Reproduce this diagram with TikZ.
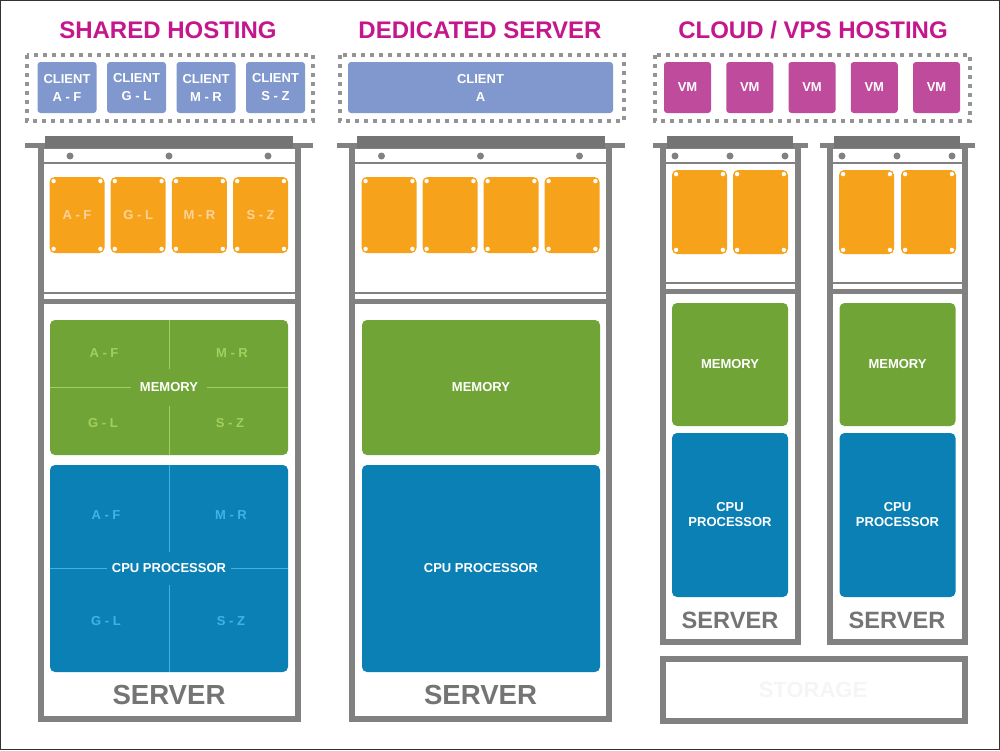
\documentclass[tikz,border=0pt]{standalone}
\usepackage{fontspec}
\setmainfont{Liberation Sans}
\usetikzlibrary{calc}

\definecolor{hostpink}{HTML}{C4178C}
\definecolor{clientblue}{HTML}{8098CE}
\definecolor{vmpink}{HTML}{BE4B9C}
\definecolor{diskorange}{HTML}{F6A21B}
\definecolor{diskfaint}{HTML}{FCD49A}
\definecolor{memgreen}{HTML}{71A437}
\definecolor{memfaint}{HTML}{A2D05A}
\definecolor{cpublue}{HTML}{0B80B5}
\definecolor{cpufaint}{HTML}{3DB4E6}
\definecolor{rackgray}{HTML}{818181}
\definecolor{capgray}{HTML}{747474}

\begin{document}
\begin{tikzpicture}[%
      x=0.5pt, y=-0.5pt,
      every node/.style={inner sep=0pt,
                         font={\bfseries\fontsize{6.5}{9}\selectfont}},
      title/.style={text=hostpink, font={\bfseries\fontsize{12}{14}\selectfont}},
      pool/.style={draw=rackgray!85, line width=2pt, dash pattern=on 2pt off 2.5pt},
      guest/.style={fill=clientblue, text=white, rounded corners=1.5pt, align=center,
                    minimum width=29.5pt, minimum height=25.5pt},
      vm/.style={guest, fill=vmpink, minimum width=23.5pt},
      disk/.style={fill=diskorange, text=diskfaint, rounded corners=2.5pt,
                   minimum width=27.5pt, minimum height=38pt},
      memory/.style={fill=memgreen, text=white, rounded corners=2.5pt},
      cpu/.style={fill=cpublue, text=white, rounded corners=2.5pt, align=center,
                  font={\bfseries\fontsize{6.5}{7.5}\selectfont}},
      wall/.style={draw=rackgray, line width=3pt},
      rail/.style={draw=rackgray, line width=0.75pt},
      rackname/.style={text=capgray, font={\bfseries\fontsize{13.8}{16}\selectfont}}
    ]
    \useasboundingbox (0,0) rectangle (1000,750);
    \draw[black!80, line width=0.5pt] (0.5,0.5) rectangle (999.5,749.5);

    \node[title] (shared title) at (168,30) {SHARED HOSTING};
    \node[title] (dedicated title) at (480,30) {DEDICATED SERVER};
    \node[title] (cloud title) at (813,30) {CLOUD / VPS HOSTING};

    \draw[pool] (27,55) rectangle (313,121);
    \draw[pool] (340,55) rectangle (624,121);
    \draw[pool] (655,55) rectangle (970,121);

    \foreach \lbl [count=\i] in {A - F, G - L, M - R, S - Z}
      \node[guest] (sc\i) at ({67+69.5*(\i-1)},87.5) {CLIENT\\\lbl};
    \node[guest, minimum width=132.5pt] (dc) at (480.5,87.5) {CLIENT\\A};
    \foreach \i in {1,...,5}
      \node[vm] (vm\i) at ({687.5+62.25*(\i-1)},87.5) {VM};

    \foreach \cx/\hw/\base/\split/\lg/\sc in {169/128.5/719/293/15.5/99,
                                               480.5/128.5/719/293/15.5/99,
                                               730/67.5/642/283/10/55,
                                               897/67.5/642/283/10/55} {
      \draw[wall] (\cx-\hw,146) rectangle (\cx+\hw,\base);
      \fill[rackgray] (\cx-\hw-\lg,143) rectangle (\cx+\hw+\lg,148);
      \fill[capgray] (\cx-\hw+4.5,136) rectangle (\cx+\hw-4.5,148);
      \draw[rail] (\cx-\hw,163) -- (\cx+\hw,163);
      \foreach \dx in {-\sc,0,\sc}
        \fill[rackgray] (\cx+\dx,156) circle[radius=1.75pt];
      \draw[rail] (\cx-\hw,\split) -- (\cx+\hw,\split);
      \fill[rackgray] (\cx-\hw,\split+6) rectangle (\cx+\hw,\split+11);
    }
    \draw[wall] (663,659) rectangle (965,721);

    \foreach \lbl [count=\i] in {A - F, G - L, M - R, S - Z}
      \node[disk] (sd\i) at ({77+61.2*(\i-1)},215) {\lbl};
    \foreach \i in {1,...,4}
      \node[disk] (dd\i) at ({389+61*(\i-1)},215) {};
    \node[disk, minimum height=42pt] (c1d1) at (699.5,212) {};
    \node[disk, minimum height=42pt] (c1d2) at (760.5,212) {};
    \node[disk, minimum height=42pt] (c2d1) at (866.5,212) {};
    \node[disk, minimum height=42pt] (c2d2) at (928.5,212) {};
    \foreach \d in {sd1,sd2,sd3,sd4,dd1,dd2,dd3,dd4,c1d1,c1d2,c2d1,c2d2}
      \foreach \corner/\ox/\oy in {north west/4.5/4.5, north east/-4.5/4.5,
                                   south west/4.5/-4.5, south east/-4.5/-4.5}
        \fill[white] ($(\d.\corner)+(\ox,\oy)$) circle[radius=1.1pt];

    \node[memory, minimum width=119pt, minimum height=67.5pt] (smem) at (169,387.5) {};
    \draw[memfaint, line width=0.5pt] (smem.north) -- (smem.south) (smem.west) -- (smem.east);
    \node[fill=memgreen, text=white, inner xsep=4.5pt, inner ysep=7pt] (smem label) at (smem) {MEMORY};
    \node[text=memfaint] (smem af) at (104,353) {A - F};
    \node[text=memfaint] (smem mr) at (232,353) {M - R};
    \node[text=memfaint] (smem gl) at (103,423) {G - L};
    \node[text=memfaint] (smem sz) at (230,423) {S - Z};

    \node[cpu, minimum width=119pt, minimum height=103.5pt] (scpu) at (169,568.5) {};
    \draw[cpufaint, line width=0.5pt] (scpu.north) -- (scpu.south) (scpu.west) -- (scpu.east);
    \node[fill=cpublue, text=white, inner xsep=2.5pt, inner ysep=6pt] (scpu label) at (scpu) {CPU PROCESSOR};
    \node[text=cpufaint] (scpu af) at (106,515) {A - F};
    \node[text=cpufaint] (scpu mr) at (231,515) {M - R};
    \node[text=cpufaint] (scpu gl) at (106,621) {G - L};
    \node[text=cpufaint] (scpu sz) at (231,621) {S - Z};

    \node[memory, minimum width=119pt, minimum height=67.5pt] (dmem) at (481,387.5) {MEMORY};
    \node[cpu, minimum width=119pt, minimum height=103.5pt] (dcpu) at (481,568.5) {CPU PROCESSOR};

    \node[memory, minimum width=58pt, minimum height=61.5pt] (c1mem) at (730,364.5) {MEMORY};
    \node[cpu, minimum width=58pt, minimum height=82pt] (c1cpu) at (730,515) {CPU\\PROCESSOR};
    \node[memory, minimum width=58pt, minimum height=61.5pt] (c2mem) at (897.5,364.5) {MEMORY};
    \node[cpu, minimum width=58pt, minimum height=82pt] (c2cpu) at (897.5,515) {CPU\\PROCESSOR};

    \node[rackname] (sname) at (169,695) {SERVER};
    \node[rackname] (dname) at (480.5,695) {SERVER};
    \node[rackname, font={\bfseries\fontsize{11.8}{14}\selectfont}] (c1name) at (730,620) {SERVER};
    \node[rackname, font={\bfseries\fontsize{11.8}{14}\selectfont}] (c2name) at (897,620) {SERVER};
    \node[rackname, text=black!4, font={\bfseries\fontsize{11}{13}\selectfont}] (storage) at (813,690) {STORAGE};
\end{tikzpicture}
\end{document}
